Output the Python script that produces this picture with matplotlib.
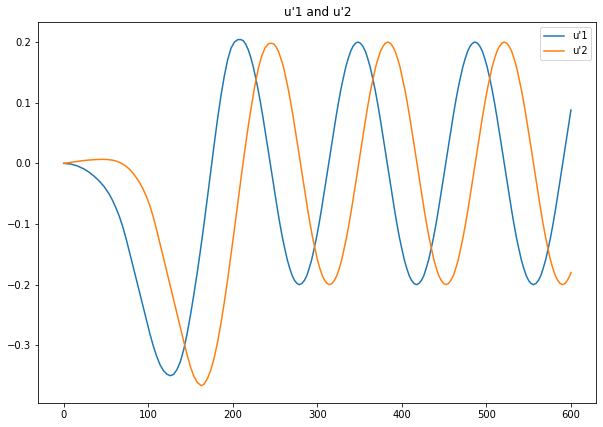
import matplotlib
matplotlib.use("Agg")
import matplotlib.pyplot as plt

title = "u'1 and u'2"
labels = ["u'1", "u'2"]

# ---------------- u'1 ----------------
u1_x = [0, 8, 16, 24, 30, 36, 42, 48, 54, 58, 62, 66, 70, 74, 78, 82, 86, 90, 94, 98, 102,
        106, 110, 114, 118, 122, 126, 130, 134, 138, 142, 146, 150, 154, 158, 162, 166, 170,
        174, 178, 182, 186, 190, 194, 198, 202, 206,
        209.7, 212.6, 215.5, 218.4, 221.2, 224.1, 227.0, 229.9, 232.8, 235.6, 238.5, 241.4,
        244.3, 247.2, 250.1, 253.0, 255.8, 258.7, 261.6, 264.5, 267.4, 270.3, 273.1, 276.0,
        278.9, 281.8, 284.7, 287.6, 290.4, 293.3, 296.2, 299.1, 302.0, 304.8, 307.7, 310.6,
        313.5, 316.4, 319.3, 322.2, 325.0, 327.9, 330.8, 333.7, 336.6, 339.5, 342.3, 345.2,
        348.1, 351.0, 353.9, 356.8, 359.6, 362.5, 365.4, 368.3, 371.2, 374.0, 376.9, 379.8,
        382.7, 385.6, 388.5, 391.4, 394.2, 397.1, 400.0, 402.9, 405.8, 408.7, 411.5, 414.4,
        417.3, 420.2, 423.1, 426.0, 428.8, 431.7, 434.6, 437.5, 440.4, 443.2, 446.1, 449.0,
        451.9, 454.8, 457.7, 460.6, 463.4, 466.3, 469.2, 472.1, 475.0, 477.9, 480.7, 483.6,
        486.5, 489.4, 492.3, 495.2, 498.0, 500.9, 503.8, 506.7, 509.6, 512.4, 515.3, 518.2,
        521.1, 524.0, 526.9, 529.8, 532.6, 535.5, 538.4, 541.3, 544.2, 547.1, 549.9, 552.8,
        555.7, 558.6, 561.5, 564.4, 567.2, 570.1, 573.0, 575.9, 578.8, 581.6, 584.5, 587.4,
        590.3, 593.2, 596.1, 599.0, 600.0]
u1_y = [0.0, -0.001, -0.0041, -0.0092, -0.0145, -0.0212, -0.029, -0.0385, -0.051, -0.0615,
        -0.074, -0.088, -0.105, -0.125, -0.147, -0.169, -0.1915, -0.214, -0.2365, -0.259, -0.281,
        -0.301, -0.318, -0.332, -0.3415, -0.3475, -0.350, -0.348, -0.340, -0.327, -0.307, -0.281,
        -0.250, -0.216, -0.180, -0.141, -0.100, -0.057, -0.013, 0.031, 0.073, 0.111, 0.144,
        0.171, 0.190, 0.200, 0.204,
        0.204, 0.202, 0.196, 0.187, 0.175, 0.160, 0.142, 0.122, 0.100, 0.077, 0.052, 0.026,
        0.000, -0.026, -0.052, -0.077, -0.100, -0.122, -0.141, -0.159, -0.173, -0.185, -0.193, -0.198,
        -0.200, -0.198, -0.193, -0.185, -0.173, -0.159, -0.141, -0.122, -0.100, -0.077, -0.052, -0.026,
        0.000, 0.026, 0.052, 0.077, 0.100, 0.122, 0.141, 0.159, 0.173, 0.185, 0.193, 0.198,
        0.200, 0.198, 0.193, 0.185, 0.173, 0.159, 0.141, 0.122, 0.100, 0.077, 0.052, 0.026,
        0.000, -0.026, -0.052, -0.077, -0.100, -0.122, -0.141, -0.159, -0.173, -0.185, -0.193, -0.198,
        -0.200, -0.198, -0.193, -0.185, -0.173, -0.159, -0.141, -0.122, -0.100, -0.077, -0.052, -0.026,
        0.000, 0.026, 0.052, 0.077, 0.100, 0.122, 0.141, 0.159, 0.173, 0.185, 0.193, 0.198,
        0.200, 0.198, 0.193, 0.185, 0.173, 0.159, 0.141, 0.122, 0.100, 0.077, 0.052, 0.026,
        0.000, -0.026, -0.052, -0.077, -0.100, -0.122, -0.141, -0.159, -0.173, -0.185, -0.193, -0.198,
        -0.200, -0.198, -0.193, -0.185, -0.173, -0.159, -0.141, -0.122, -0.100, -0.077, -0.052, -0.026,
        0.000, 0.026, 0.052, 0.077, 0.088]

# ---------------- u'2 ----------------
u2_x = [0, 10, 20, 30, 40, 46, 52, 58, 62, 66, 70, 74, 78, 82, 86, 90, 94, 98, 102, 106, 110,
        114, 118, 122, 126, 130, 134, 138, 142, 146, 150, 154, 158, 162.7, 166, 170, 174, 178,
        182, 186, 190, 194, 198, 202, 206, 210, 214, 218, 222, 226, 230, 234, 238, 242,
        245.6, 248.5, 251.3, 254.2, 257.1, 260.0, 262.8, 265.7, 268.6, 271.4, 274.3, 277.2,
        280.1, 282.9, 285.8, 288.7, 291.5, 294.4, 297.3, 300.1, 303.0, 305.9, 308.8, 311.6,
        314.5, 317.4, 320.2, 323.1, 326.0, 328.9, 331.7, 334.6, 337.5, 340.3, 343.2, 346.1,
        349.0, 351.8, 354.7, 357.6, 360.4, 363.3, 366.2, 369.0, 371.9, 374.8, 377.7, 380.5,
        383.4, 386.3, 389.1, 392.0, 394.9, 397.8, 400.6, 403.5, 406.4, 409.2, 412.1, 415.0,
        417.9, 420.7, 423.6, 426.5, 429.3, 432.2, 435.1, 437.9, 440.8, 443.7, 446.6, 449.4,
        452.3, 455.2, 458.0, 460.9, 463.8, 466.7, 469.5, 472.4, 475.3, 478.1, 481.0, 483.9,
        486.8, 489.6, 492.5, 495.4, 498.2, 501.1, 504.0, 506.8, 509.7, 512.6, 515.5, 518.3,
        521.2, 524.1, 526.9, 529.8, 532.7, 535.6, 538.4, 541.3, 544.2, 547.0, 549.9, 552.8,
        555.7, 558.5, 561.4, 564.3, 567.1, 570.0, 572.9, 575.7, 578.6, 581.5, 584.4, 587.2,
        590.1, 593.0, 595.8, 598.7, 600.0]
u2_y = [0.0, 0.002, 0.004, 0.0055, 0.0064, 0.0066, 0.0063, 0.0052, 0.0038, 0.0017, -0.0012,
        -0.005, -0.010, -0.0162, -0.0236, -0.0322, -0.0425, -0.055, -0.070, -0.0885, -0.110,
        -0.1325, -0.1555, -0.1785, -0.2015, -0.2245, -0.2475, -0.2705, -0.2935, -0.3155, -0.3355,
        -0.351, -0.361, -0.3665, -0.364, -0.355, -0.341, -0.321, -0.295, -0.264, -0.229, -0.191,
        -0.150, -0.108, -0.065, -0.022, 0.019, 0.058, 0.094, 0.127, 0.155, 0.176, 0.190, 0.197,
        0.198, 0.197, 0.192, 0.184, 0.172, 0.159, 0.141, 0.122, 0.100, 0.077, 0.052, 0.026,
        0.000, -0.026, -0.052, -0.077, -0.100, -0.122, -0.141, -0.159, -0.173, -0.185, -0.193, -0.198,
        -0.200, -0.198, -0.193, -0.185, -0.173, -0.159, -0.141, -0.122, -0.100, -0.077, -0.052, -0.026,
        0.000, 0.026, 0.052, 0.077, 0.100, 0.122, 0.141, 0.159, 0.173, 0.185, 0.193, 0.198,
        0.200, 0.198, 0.193, 0.185, 0.173, 0.159, 0.141, 0.122, 0.100, 0.077, 0.052, 0.026,
        0.000, -0.026, -0.052, -0.077, -0.100, -0.122, -0.141, -0.159, -0.173, -0.185, -0.193, -0.198,
        -0.200, -0.198, -0.193, -0.185, -0.173, -0.159, -0.141, -0.122, -0.100, -0.077, -0.052, -0.026,
        0.000, 0.026, 0.052, 0.077, 0.100, 0.122, 0.141, 0.159, 0.173, 0.185, 0.193, 0.198,
        0.200, 0.198, 0.193, 0.185, 0.173, 0.159, 0.141, 0.122, 0.100, 0.077, 0.052, 0.026,
        0.000, -0.026, -0.052, -0.077, -0.100, -0.122, -0.141, -0.159, -0.173, -0.185, -0.193, -0.198,
        -0.200, -0.198, -0.193, -0.185, -0.180]

DPI = 72
fig = plt.figure(figsize=(603 / DPI, 427 / DPI), dpi=DPI)
ax = fig.add_axes([38.3 / 603, 24.0 / 427, 558.0 / 603, 380.7 / 427])
ax.plot(u1_x, u1_y, color="#1f77b4", lw=1.5, label=labels[0])
ax.plot(u2_x, u2_y, color="#ff7f0e", lw=1.5, label=labels[1])
ax.set_title(title)
ax.legend(loc="upper right")
fig.savefig("out.png", dpi=DPI)
